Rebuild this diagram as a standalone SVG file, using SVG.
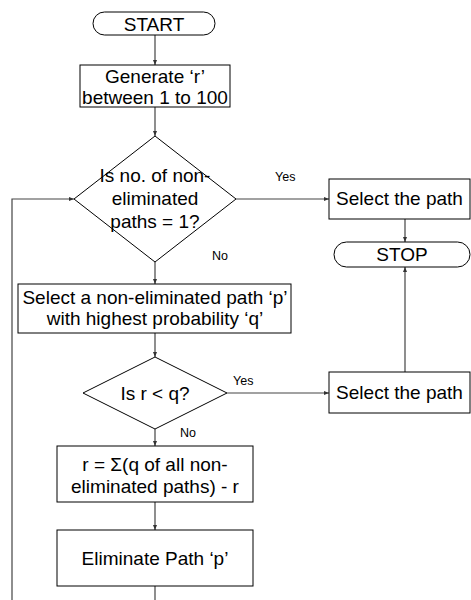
<svg xmlns="http://www.w3.org/2000/svg" width="471" height="600" viewBox="0 0 471 600">
<defs>
<marker id="ah" viewBox="0 0 10 10" refX="10" refY="5" markerWidth="5" markerHeight="5" markerUnits="userSpaceOnUse" orient="auto"><path d="M0,1 L10,5 L0,9 z" fill="#333"/></marker>
</defs>
<style>
.n{fill:#fff;stroke:#000;stroke-width:1}
.t{font-family:"Liberation Sans",Arial,sans-serif;font-size:19px;fill:#000;text-anchor:middle}
.l{font-family:"Liberation Sans",Arial,sans-serif;font-size:12.5px;fill:#000}
.c{fill:none;stroke:#444;stroke-width:1.2}
.a{marker-end:url(#ah)}
</style>
<rect width="471" height="600" fill="#fff"/>
<g id="connectors">
<line class="c a" x1="155" y1="35" x2="155" y2="65"/>
<line class="c a" x1="155" y1="107" x2="155" y2="136"/>
<line class="c a" x1="236" y1="199" x2="329" y2="199"/>
<line class="c a" x1="405" y1="219" x2="405" y2="242"/>
<line class="c a" x1="155" y1="262" x2="155" y2="284"/>
<line class="c a" x1="155" y1="333" x2="155" y2="357"/>
<line class="c a" x1="227" y1="393" x2="329" y2="393"/>
<line class="c a" x1="405" y1="372" x2="405" y2="267"/>
<line class="c a" x1="155" y1="429" x2="155" y2="446"/>
<line class="c a" x1="155" y1="502" x2="155" y2="530"/>
<line class="c" x1="155" y1="586" x2="155" y2="600"/>
<polyline class="c a" points="12,600 12,199 74,199"/>
<text class="l" x="275" y="181">Yes</text>
<text class="l" x="212" y="260">No</text>
<text class="l" x="233" y="385">Yes</text>
<text class="l" x="180" y="437">No</text>
</g>
<g id="start">
<rect class="n" x="93" y="12" width="122" height="23" rx="11.5"/>
<text class="t" x="154" y="31">START</text>
</g>
<g id="generate">
<rect class="n" x="80" y="65" width="150" height="42"/>
<text class="t" x="155" y="83">Generate ‘r’</text>
<text class="t" x="155" y="104">between 1 to 100</text>
</g>
<g id="decision1">
<polygon class="n" points="155,136 236,199 155,262 74,199"/>
<text class="t" x="155" y="182">Is no. of non-</text>
<text class="t" x="155" y="205">eliminated</text>
<text class="t" x="155" y="228">paths = 1?</text>
</g>
<g id="select1">
<rect class="n" x="329" y="179" width="141" height="40"/>
<text class="t" x="399.5" y="205">Select the path</text>
</g>
<g id="stop">
<rect class="n" x="334" y="242" width="136" height="25" rx="12.5"/>
<text class="t" x="402" y="261">STOP</text>
</g>
<g id="selectp">
<rect class="n" x="18" y="284" width="273" height="49"/>
<text class="t" x="155" y="304">Select a non-eliminated path ‘p’</text>
<text class="t" x="155" y="325">with highest probability ‘q’</text>
</g>
<g id="decision2">
<polygon class="n" points="155,357 227,393 155,429 83,393"/>
<text class="t" x="155" y="400">Is r &lt; q?</text>
</g>
<g id="select2">
<rect class="n" x="329" y="372" width="141" height="41"/>
<text class="t" x="399.5" y="399">Select the path</text>
</g>
<g id="update">
<rect class="n" x="57" y="446" width="196" height="56"/>
<text class="t" x="155" y="471">r = Σ(q of all non-</text>
<text class="t" x="155" y="493">eliminated paths) - r</text>
</g>
<g id="eliminate">
<rect class="n" x="57" y="530" width="196" height="56"/>
<text class="t" x="155" y="565">Eliminate Path ‘p’</text>
</g>
</svg>
